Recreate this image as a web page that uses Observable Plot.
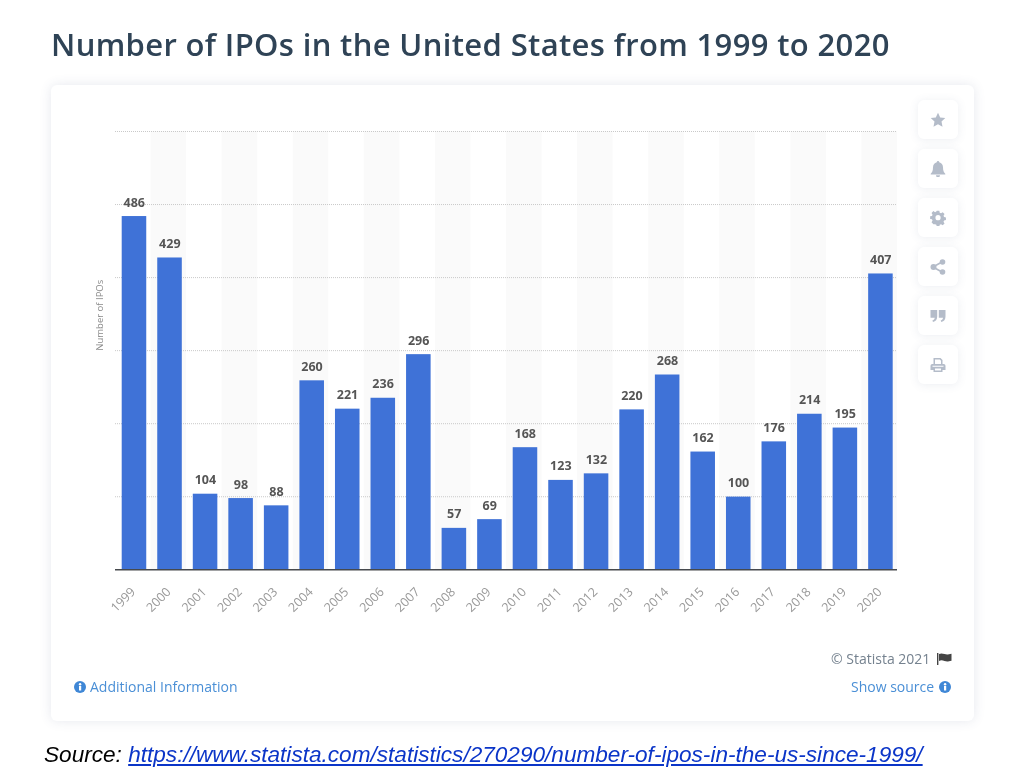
<!DOCTYPE html>
<html><head><meta charset="utf-8">
<script src="https://cdn.jsdelivr.net/npm/d3@7"></script>
<script src="https://cdn.jsdelivr.net/npm/@observablehq/plot@0.6"></script>
<style>
html,body{margin:0;padding:0;background:#fff;}
#page{position:relative;width:1024px;height:777px;overflow:hidden;background:#fff;font-family:"Open Sans",sans-serif;filter:blur(0.35px);}
#title{position:absolute;left:51px;top:22px;font-size:31px;font-weight:600;color:#2f4356;white-space:nowrap;letter-spacing:0.35px;line-height:44px;}
#card{position:absolute;left:51px;top:85px;width:923px;height:636px;background:#fff;border-radius:6px;box-shadow:0 0 12px rgba(60,80,120,.13);}
#chart{position:absolute;left:51px;top:85px;}
#chart svg{display:block;}
.btn{position:absolute;left:918px;width:40px;height:39px;background:#fff;border-radius:6px;box-shadow:0 1px 10px rgba(70,90,130,.10);display:flex;align-items:center;justify-content:center;}
.btn svg{width:16px;height:16px;fill:#b4bcc9;}
.note{position:absolute;font-size:14px;white-space:nowrap;line-height:18px;}
.ico{position:absolute;width:12px;height:12px;}
#source{position:absolute;left:44px;top:742px;font-family:"Liberation Sans",Arial,sans-serif;font-style:italic;font-size:22.6px;line-height:26px;color:#000;white-space:nowrap;}
#source a{color:#0b35c8;text-decoration:underline;}
</style></head>
<body>
<div id="page">
  <div id="title"></div>
  <div id="card"></div>
  <div id="chart"></div>
  <div class="btn" style="top:100px"><svg viewBox="0 0 16 16"><path d="M8 .8l2.2 4.7 5.1.6-3.8 3.5 1 5.1L8 12.2l-4.5 2.5 1-5.1L.7 6.1l5.1-.6z"/></svg></div>
  <div class="btn" style="top:149px"><svg viewBox="0 0 16 16"><path d="M8 0a1.2 1.2 0 0 1 1.2 1.3C11.5 1.9 13 3.800 13 6.200c0 3.800 1 5.200 2.300 6.500v.8H.7v-.8C2 11.400 3 10 3 6.200c0-2.400 1.500-4.300 3.800-4.900A1.200 1.200 0 0 1 8 0zM6 14.200h4a2 2 0 0 1-4 0z"/></svg></div>
  <div class="btn" style="top:198px"><svg viewBox="0 0 16 16"><path fill-rule="evenodd" d="M6.600.8h2.800l.4 2 1.400.6 1.800-1.100 2 2-1.100 1.800.6 1.400 2 .4v2.800l-2 .4-.6 1.400 1.100 1.800-2 2-1.800-1.100-1.400.6-.4 2H6.600l-.4-2-1.400-.6L3 15.100l-2-2 1.100-1.800-.6-1.400-2-.4V6.700l2-.4.6-1.400L1 3.100l2-2 1.800 1.100 1.400-.6zM8 5.300a2.800 2.800 0 1 0 0 5.600 2.800 2.800 0 0 0 0-5.600z" transform="translate(.6 .1) scale(.93)"/></svg></div>
  <div class="btn" style="top:247px"><svg viewBox="0 0 16 16"><circle cx="3.500" cy="8" r="3"/><circle cx="12.500" cy="3" r="2.800"/><circle cx="12.500" cy="13" r="2.800"/><path d="M3 7l9-5 .8 1.500-9 5zM3.800 7.500l9 5-.8 1.500-9-5z"/></svg></div>
  <div class="btn" style="top:296px"><svg viewBox="0 0 16 16"><path d="M.5 2h6.700v6.500c0 3-1.500 5-4.200 5.500l-.6-1.600c1.400-.5 2.200-1.400 2.300-2.700H.5zM8.800 2h6.700v6.500c0 3-1.500 5-4.200 5.500l-.6-1.600c1.400-.5 2.200-1.400 2.300-2.700H8.800z"/></svg></div>
  <div class="btn" style="top:345px"><svg viewBox="0 0 16 16"><path fill-rule="evenodd" d="M3.500 1h7l2 2v4h1.200A1.800 1.800 0 0 1 15.500 8.800V13h-3v2h-9v-2h-3V8.800A1.800 1.800 0 0 1 2.300 7h1.200zM5 2.500V7h6V3.700L9.800 2.500zM5 11.500v2h6v-2zM2.500 8.800v1h11v-1z"/></svg></div>

  <div class="note" style="left:831px;top:650px;color:#75828f">© Statista 2021</div>
  <svg class="ico" style="left:937px;top:653px;width:15px;height:12px" viewBox="0 0 15 12"><path fill="#444" d="M0 0h1.400v12H0zM2 1c2-1 3.500-.6 5.500 0s3.500.6 7 -.3v7c-3.500 1-5 1-7 .3S4 7 2 8z"/></svg>
  <div class="note" style="left:851px;top:678px;color:#4a8fd6">Show source</div>
  <svg class="ico" style="left:939px;top:681px" viewBox="0 0 12 12"><circle cx="6" cy="6" r="6" fill="#3f87d6"/><rect x="5" y="5" width="2.200" height="4.500" fill="#fff"/><circle cx="6.100" cy="3.200" r="1.200" fill="#fff"/></svg>
  <div class="note" style="left:90px;top:678px;color:#4a8fd6">Additional Information</div>
  <svg class="ico" style="left:74px;top:681px" viewBox="0 0 12 12"><circle cx="6" cy="6" r="6" fill="#3f87d6"/><rect x="5" y="5" width="2.200" height="4.500" fill="#fff"/><circle cx="6.100" cy="3.200" r="1.200" fill="#fff"/></svg>

  <div id="source"></div>
</div>
<script>
const titleText = "Number of IPOs in the United States from 1999 to 2020";
const yAxisLabel = "Number of IPOs";
const sourcePrefix = "Source: ";
const sourceUrl = "https://www.statista.com/statistics/270290/number-of-ipos-in-the-us-since-1999/";

const years = ["1999","2000","2001","2002","2003","2004","2005","2006","2007","2008","2009","2010","2011","2012","2013","2014","2015","2016","2017","2018","2019","2020"];
const ipos = [486,429,104,98,88,260,221,236,296,57,69,168,123,132,220,268,162,100,176,214,195,407];
// Even years carry the pale background stripe
const stripedYears = years.filter(y => +y % 2 === 0);
const gridValues = [100.5, 201, 301.5, 402, 502.5, 603];
const yMax = 603;

const table = years.map((year, i) => ({year, value: ipos[i]}));

document.getElementById("title").textContent = titleText;
const src = document.getElementById("source");
src.append(sourcePrefix);
const a = document.createElement("a");
a.textContent = sourceUrl; a.href = sourceUrl;
src.append(a);

const plot = Plot.plot({
  width: 923, height: 560,
  marginLeft: 64, marginRight: 77, marginTop: 46, marginBottom: 75.7,
  style: {background: "transparent", fontFamily: '"Open Sans", sans-serif', overflow: "visible"},
  x: {domain: years, padding: 0, round: false, label: null},
  y: {domain: [0, yMax], label: null, axis: null},
  marks: [
    Plot.barY(stripedYears, {x: d => d, y1: 0, y2: yMax, fill: "#fafafa"}),
    Plot.ruleY(gridValues, {stroke: "#c9c9c9", strokeWidth: 1, strokeDasharray: "1,1"}),
    Plot.barY(table, {x: "year", y: "value", fill: "#3f72d7", insetLeft: 6.700, insetRight: 4.300}),
    Plot.ruleY([0], {stroke: "#46494d", strokeWidth: 1.500}),
    Plot.text(table, {x: "year", y: "value", text: d => String(d.value), dy: -14, dx: 1, fill: "#555", fontSize: 12.500, fontWeight: 700, style: "letter-spacing:.8px"}),
    Plot.axisX({tickSize: 0, tickRotate: -45, tickPadding: 20, fontSize: 12.500, color: "#999", label: null, anchor: "bottom", style: "letter-spacing:.5px"}),
    Plot.text([yAxisLabel], {frameAnchor: "left", dx: -16, rotate: -90, fill: "#8a8a8a", fontSize: 9.500, style: "letter-spacing:.5px"})
  ]
});
document.getElementById("chart").append(plot);
</script>
</body></html>
